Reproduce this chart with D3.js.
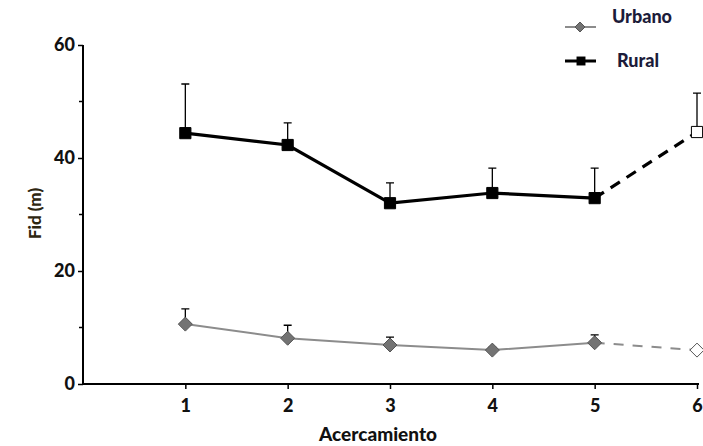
<!DOCTYPE html>
<html>
<head>
<meta charset="utf-8">
<script src="https://cdn.jsdelivr.net/npm/d3@7"></script>
<style>
  html, body { margin: 0; padding: 0; background: #fff; }
  svg { display: block; }
  text { font-family: Lato, "Open Sans", sans-serif; font-weight: 900; }
</style>
</head>
<body>
<svg id="chart" width="703" height="446"></svg>
<script>
// Approach number (Acercamiento) and mean flight initiation distance (m)
const approaches = [1, 2, 3, 4, 5, 6];
const ruralMean  = [44.4, 42.3, 32.0, 33.8, 32.9, 44.6];
const ruralErr   = [8.7, 3.9, 3.6, 4.4, 5.3, 6.9];
const urbanMean  = [10.6, 8.1, 6.9, 6.0, 7.3, 6.0];
const urbanErr   = [2.7, 2.3, 1.4, 0.5, 1.4, 0];
const yTicks = [0, 20, 40, 60];
const yMinor = [10, 30, 50];

const svg = d3.select("#chart");
const x = d3.scaleLinear().domain([0, 6]).range([83, 697]);
const y = d3.scaleLinear().domain([0, 60]).range([384, 45]);

const rural = approaches.map((a, i) => ({ a, v: ruralMean[i], e: ruralErr[i] }));
const urban = approaches.map((a, i) => ({ a, v: urbanMean[i], e: urbanErr[i] }));

// Axes
const yAxis = d3.axisLeft(y).tickValues(yTicks).tickSize(5).tickPadding(3).tickFormat(d3.format("d"));
const gy = svg.append("g").attr("transform", `translate(${x(0)},0)`).call(yAxis);
gy.select(".domain").attr("stroke", "#000").attr("stroke-width", 2).attr("d", `M0,${y(60)}V${y(0)}`);
gy.selectAll(".tick line").attr("stroke", "#000").attr("stroke-width", 1.5);
gy.selectAll(".tick text").attr("font-size", 18).attr("fill", "#111");
svg.append("g").selectAll("line").data(yMinor).join("line")
  .attr("x1", x(0) - 4).attr("x2", x(0))
  .attr("y1", d => y(d)).attr("y2", d => y(d))
  .attr("stroke", "#000").attr("stroke-width", 1.5);

const xAxis = d3.axisBottom(x).tickValues(approaches).tickSize(5).tickPadding(10).tickFormat(d3.format("d"));
const gx = svg.append("g").attr("transform", `translate(0,${y(0)})`).call(xAxis);
gx.select(".domain").attr("stroke", "#000").attr("stroke-width", 2).attr("d", `M${x(0)},0H${x(6) + 2}`);
gx.selectAll(".tick line").attr("stroke", "#000").attr("stroke-width", 1.5);
gx.selectAll(".tick text").attr("font-size", 18).attr("fill", "#111");

// Axis titles
svg.append("text").attr("x", 378).attr("y", 441)
  .attr("text-anchor", "middle").attr("font-size", 19).attr("fill", "#111").text("Acercamiento");
svg.append("text").attr("transform", `translate(41,${y(30) - 1}) rotate(-90)`)
  .attr("text-anchor", "middle").attr("font-size", 17).attr("fill", "#2e2610").text("Fid (m)");

const line = d3.line().x(d => x(d.a)).y(d => y(d.v));

function drawSeries(data, opts) {
  const g = svg.append("g");
  // error bars (upper only)
  g.selectAll("path.err").data(data.filter(d => d.e > 0)).join("path")
    .attr("class", "err")
    .attr("d", d => `M${x(d.a)},${y(d.v)}V${y(d.v + d.e)}M${x(d.a) - 4},${y(d.v + d.e)}H${x(d.a) + 4}`)
    .attr("stroke", "#000").attr("stroke-width", 1.3).attr("fill", "none");
  g.append("path").datum(data.slice(0, 5)).attr("d", line)
    .attr("fill", "none").attr("stroke", opts.color).attr("stroke-width", opts.width);
  g.append("path").datum(data.slice(4, 6)).attr("d", line)
    .attr("fill", "none").attr("stroke", opts.color).attr("stroke-width", opts.width)
    .attr("stroke-dasharray", opts.dash);
  g.selectAll("path.mark").data(data).join("path")
    .attr("class", "mark")
    .attr("transform", d => `translate(${x(d.a)},${y(d.v)})`)
    .attr("d", opts.symbol)
    .attr("fill", (d, i) => i === 5 ? "#fff" : opts.fill)
    .attr("stroke", opts.stroke).attr("stroke-width", 1);
}

const square = d3.symbol(d3.symbolSquare, 125)();
const diamond = "M0,-7L7,0L0,7L-7,0Z";

drawSeries(urban, { color: "#8c8c8c", width: 2, dash: "10,9", symbol: diamond, fill: "#737373", stroke: "#555" });
drawSeries(rural, { color: "#000", width: 3.2, dash: "11,8", symbol: square, fill: "#000", stroke: "#000" });

// Legend
const legend = svg.append("g");
legend.append("line").attr("x1", 565).attr("x2", 596).attr("y1", 27).attr("y2", 27)
  .attr("stroke", "#8c8c8c").attr("stroke-width", 2);
legend.append("path").attr("transform", "translate(580,27)").attr("d", "M0,-5L5,0L0,5L-5,0Z")
  .attr("fill", "#737373").attr("stroke", "#555");
legend.append("text").attr("x", 612).attr("y", 23).attr("font-size", 18).attr("fill", "#1c1c3a").text("Urbano");
legend.append("line").attr("x1", 565).attr("x2", 596).attr("y1", 61).attr("y2", 61)
  .attr("stroke", "#000").attr("stroke-width", 3);
legend.append("path").attr("transform", "translate(581,61)").attr("d", d3.symbol(d3.symbolSquare, 80)())
  .attr("fill", "#000");
legend.append("text").attr("x", 617).attr("y", 67).attr("font-size", 18).attr("fill", "#1c1c3a").text("Rural");
</script>
</body>
</html>
